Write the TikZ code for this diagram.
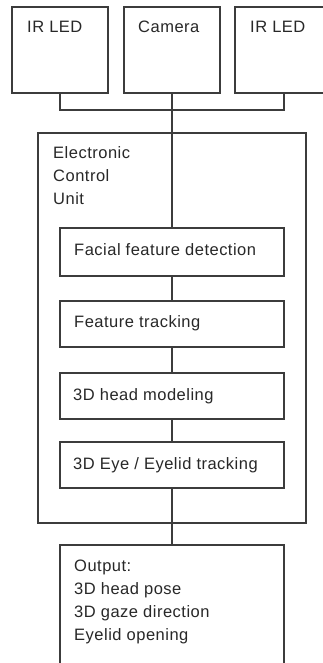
\documentclass[tikz,border=0pt]{standalone}
\usepackage{fontspec}
\setmainfont[LetterSpace=3]{Liberation Sans}
\definecolor{ink}{RGB}{60,60,60}
\definecolor{txt}{RGB}{40,40,40}
\begin{document}
\begin{tikzpicture}[x=1pt,y=-1pt,
  box/.style={draw=ink,line width=1.3pt,rectangle,inner sep=0pt,outer sep=0pt},
  lbl/.style={anchor=base west,inner sep=0pt,text=txt,font=\fontsize{16.5}{23}\selectfont},
  wire/.style={draw=ink,line width=1.3pt}]
\useasboundingbox (0,0) rectangle (323,663);
\clip (0,0) rectangle (323,663);
\fill[white] (0,0) rectangle (323,663);
% top row
\node[box,minimum width=96pt,minimum height=86pt] (led1) at (60,50) {};
\node[box,minimum width=96pt,minimum height=86pt] (cam) at (172,50) {};
\node[box,minimum width=98pt,minimum height=86pt] (led2) at (284,50) {};
\node[lbl] (tled1) at (27,33) {IR LED};
\node[lbl] (tcam) at (138,33) {Camera};
\node[lbl] (tled2) at (250,33) {IR LED};
% ECU
\node[box,minimum width=268pt,minimum height=390pt] (ecu) at (172,328) {};
\node[lbl,align=left] (tecu) at (53,204.5) {Electronic\\Control\\Unit};
\node[box,minimum width=224pt,minimum height=48pt] (fac) at (172,252) {};
\node[box,minimum width=224pt,minimum height=46pt] (ft) at (172,324) {};
\node[box,minimum width=224pt,minimum height=46pt] (hm) at (172,396) {};
\node[box,minimum width=224pt,minimum height=46pt] (eye) at (172,465) {};
\node[lbl] (tfac) at (74,255) {Facial feature detection};
\node[lbl] (tft) at (74,327) {Feature tracking};
\node[lbl] (thm) at (73,400) {3D head modeling};
\node[lbl] (teye) at (73,469) {3D Eye / Eyelid tracking};
% output
\node[box,minimum width=224pt,minimum height=150pt] (out) at (172,620) {};
\node[lbl,align=left] (tout) at (74,640) {Output:\\3D head pose\\3D gaze direction\\Eyelid opening};
% connectors
\coordinate (bus) at (172,110);
\draw[wire] (led1.south) |- (bus) -| (led2.south);
\draw[wire] (cam.south) -- (cam.south |- fac.north);
\draw[wire] (fac.south) -- (ft.north);
\draw[wire] (ft.south) -- (hm.north);
\draw[wire] (hm.south) -- (eye.north);
\draw[wire] (eye.south) -- (out.north);
\end{tikzpicture}
\end{document}
